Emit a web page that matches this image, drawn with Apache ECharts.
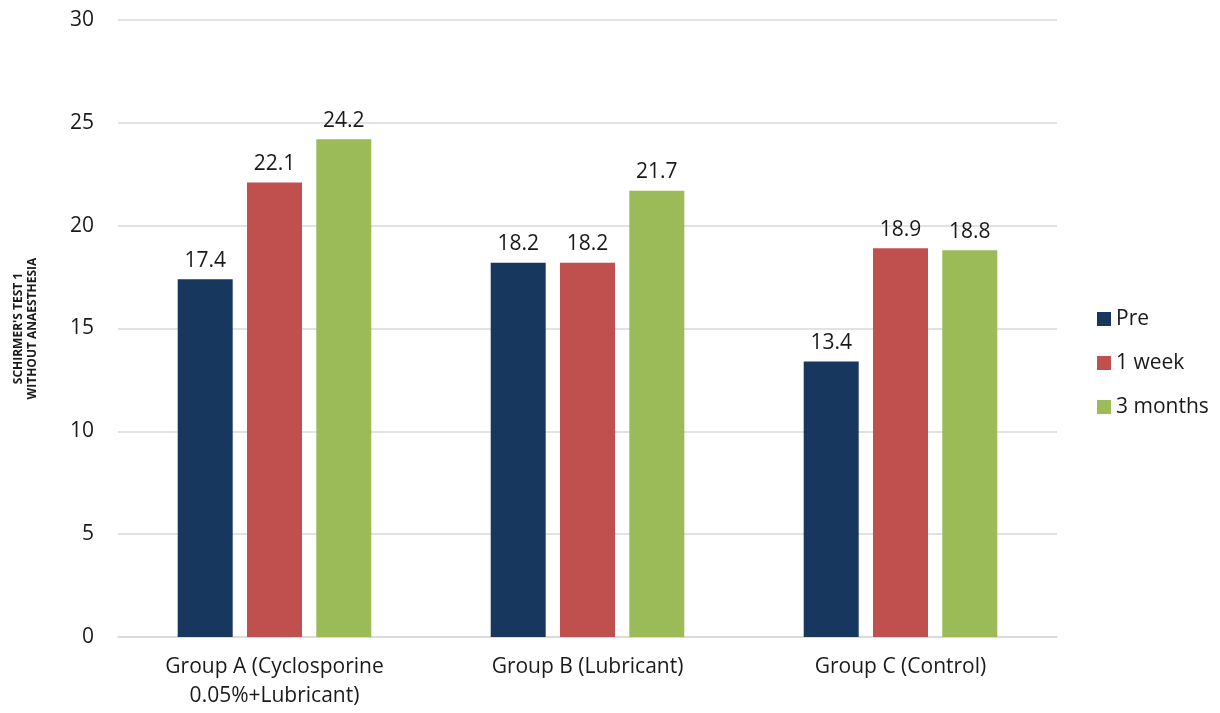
<!DOCTYPE html>
<html>
<head>
<meta charset="utf-8">
<script src="https://cdn.jsdelivr.net/npm/echarts@6/dist/echarts.min.js"></script>
<style>
  html, body { margin: 0; padding: 0; background: #fff; }
  #chart { width: 1220px; height: 713px; }
</style>
</head>
<body>
<div id="chart"></div>
<script>
// Schirmer's test 1 (without anaesthesia) by group and follow-up time
const categories = ['Group A (Cyclosporine\n0.05%+Lubricant)', 'Group B (Lubricant)', 'Group C (Control)'];
const preValues = [17.4, 18.2, 13.4];
const weekValues = [22.1, 18.2, 18.9];
const monthValues = [24.2, 21.7, 18.8];
const yTicks = { min: 0, max: 30, interval: 5 };

const font = '"Open Sans", "Noto Sans", sans-serif';
const textColor = '#1a1a1a';

function barSeries(name, data, color) {
  return {
    name: name,
    type: 'bar',
    data: data,
    barWidth: 55,
    barGap: '26%',
    itemStyle: { color: color },
    label: {
      show: true,
      position: 'top',
      distance: 8,
      color: textColor,
      fontSize: 21,
      fontFamily: font
    }
  };
}

const chart = echarts.init(document.getElementById('chart'), null, { renderer: 'canvas' });
chart.setOption({
  animation: false,
  backgroundColor: '#ffffff',
  grid: { left: 118, right: 163, top: 20, bottom: 76 },
  legend: {
    orient: 'vertical',
    left: 1092,
    top: 303,
    itemWidth: 14,
    itemHeight: 14,
    itemGap: 22,
    icon: 'rect',
    textStyle: { fontSize: 21, lineHeight: 22, color: textColor, fontFamily: font },
    data: ['Pre', '1 week', '3 months']
  },
  xAxis: {
    type: 'category',
    data: categories,
    axisLine: { lineStyle: { color: '#d9d9d9', width: 1.5 } },
    axisTick: { show: false },
    axisLabel: {
      color: textColor,
      fontSize: 21,
      fontFamily: font,
      margin: 16,
      lineHeight: 29
    }
  },
  yAxis: {
    type: 'value',
    min: yTicks.min,
    max: yTicks.max,
    interval: yTicks.interval,
    name: "SCHIRMER'S TEST 1\nWITHOUT ANAESTHESIA",
    nameLocation: 'middle',
    nameGap: 78,
    nameRotate: 90,
    nameTextStyle: {
      fontSize: 12,
      fontWeight: 'bold',
      color: textColor,
      fontFamily: font,
      lineHeight: 14
    },
    axisLine: { show: false },
    axisTick: { show: false },
    splitLine: { lineStyle: { color: '#d9d9d9', width: 1.5 } },
    axisLabel: {
      color: textColor,
      fontSize: 21,
      fontFamily: font,
      margin: 24
    }
  },
  series: [
    barSeries('Pre', preValues, '#17375E'),
    barSeries('1 week', weekValues, '#C0504D'),
    barSeries('3 months', monthValues, '#9BBB59')
  ]
});
</script>
</body>
</html>
